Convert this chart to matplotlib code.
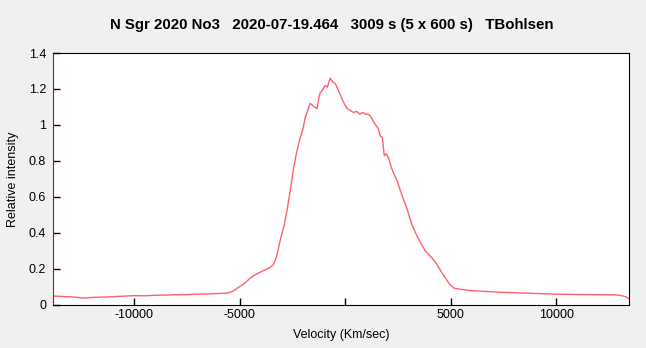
import matplotlib.pyplot as plt

# Nova line profile: velocity (km/s) vs relative intensity, 10 values per row
velocity = [
    -13850, -13500, -13200, -12900, -12600, -12300, -12000, -11500, -11000, -10500,
    -10000, -9500, -9000, -8500, -8000, -7500, -7000, -6500, -6000, -5700,
    -5500, -5300, -5100, -4900, -4700, -4500, -4300, -4100, -3900, -3700,
    -3550, -3400, -3250, -3080, -2900, -2750, -2600, -2460, -2300, -2130,
    -2000, -1900, -1780, -1660, -1550, -1450, -1330, -1250, -1185, -1100,
    -950, -850, -710, -600, -470, -350, -240, -100, 95, 250,
    380, 550, 700, 810, 950, 1090, 1200, 1330, 1450, 1560,
    1660, 1760, 1850, 1950, 2040, 2200, 2300, 2460, 2600, 2750,
    2940, 3150, 3410, 3600, 3800, 4120, 4350, 4550, 4750, 4950,
    5170, 5400, 5700, 6000, 6500, 7000, 7500, 8000, 8500, 9000,
    9500, 10000, 10500, 11000, 11500, 12000, 12500, 12800, 13100, 13300,
    13450,
]
intensity = [
    0.050, 0.048, 0.046, 0.045, 0.040, 0.038, 0.042, 0.044, 0.046, 0.049,
    0.052, 0.051, 0.054, 0.055, 0.057, 0.058, 0.060, 0.061, 0.064, 0.065,
    0.068, 0.078, 0.095, 0.110, 0.128, 0.150, 0.165, 0.178, 0.190, 0.200,
    0.210, 0.225, 0.270, 0.360, 0.440, 0.530, 0.640, 0.750, 0.850, 0.930,
    0.980, 1.040, 1.080, 1.120, 1.110, 1.100, 1.090, 1.150, 1.180, 1.190,
    1.220, 1.210, 1.260, 1.240, 1.230, 1.200, 1.170, 1.130, 1.090, 1.080,
    1.070, 1.075, 1.060, 1.070, 1.060, 1.060, 1.050, 1.020, 1.000, 0.980,
    0.940, 0.930, 0.830, 0.840, 0.820, 0.760, 0.730, 0.690, 0.640, 0.590,
    0.530, 0.450, 0.380, 0.340, 0.300, 0.260, 0.225, 0.185, 0.150, 0.115,
    0.093, 0.088, 0.084, 0.080, 0.076, 0.073, 0.070, 0.068, 0.066, 0.064,
    0.062, 0.060, 0.059, 0.058, 0.058, 0.057, 0.057, 0.056, 0.052, 0.045,
    0.035,
]
xticks = [-10000, -5000, 0, 5000, 10000]
xticklabels = ['-10000', '-5000', '', '5000', '10000']
yticks = [0, 0.2, 0.4, 0.6, 0.8, 1, 1.2, 1.4]
yticklabels = ['0', '0.2', '0.4', '0.6', '0.8', '1', '1.2', '1.4']

plt.rcParams['font.family'] = ['Liberation Sans', 'DejaVu Sans']

fig = plt.figure(figsize=(6.46, 3.48), dpi=100, facecolor='#f0f0f0')
ax = fig.add_axes([0.082, 0.1236, 0.8917, 0.7241])
ax.plot(velocity, intensity, color='#ff6070', lw=1.0)

ax.set_xlim(-13850, 13450)
ax.set_ylim(0, 1.4)
ax.set_xticks(xticks)
ax.set_xticklabels(xticklabels)
ax.set_yticks(yticks)
ax.set_yticklabels(yticklabels)
ax.tick_params(direction='in', length=5, width=1, labelsize=9, colors='black')
ax.tick_params(axis='x', pad=3)
ax.tick_params(axis='y', pad=5)
for side in ['top', 'right', 'bottom']:
    ax.spines[side].set_color('black')
ax.spines['left'].set_color('#e00000')

ax.set_xlabel('Velocity (Km/sec)', fontsize=9, labelpad=6)
ax.set_ylabel('Relative intensity', fontsize=9, labelpad=7)
fig.text(0.514, 0.928, 'N Sgr 2020 No3   2020-07-19.464   3009 s (5 x 600 s)   TBohlsen',
         ha='center', va='center', fontsize=10.8, fontweight='bold')

fig.savefig('out.png', dpi=100, facecolor=fig.get_facecolor())
